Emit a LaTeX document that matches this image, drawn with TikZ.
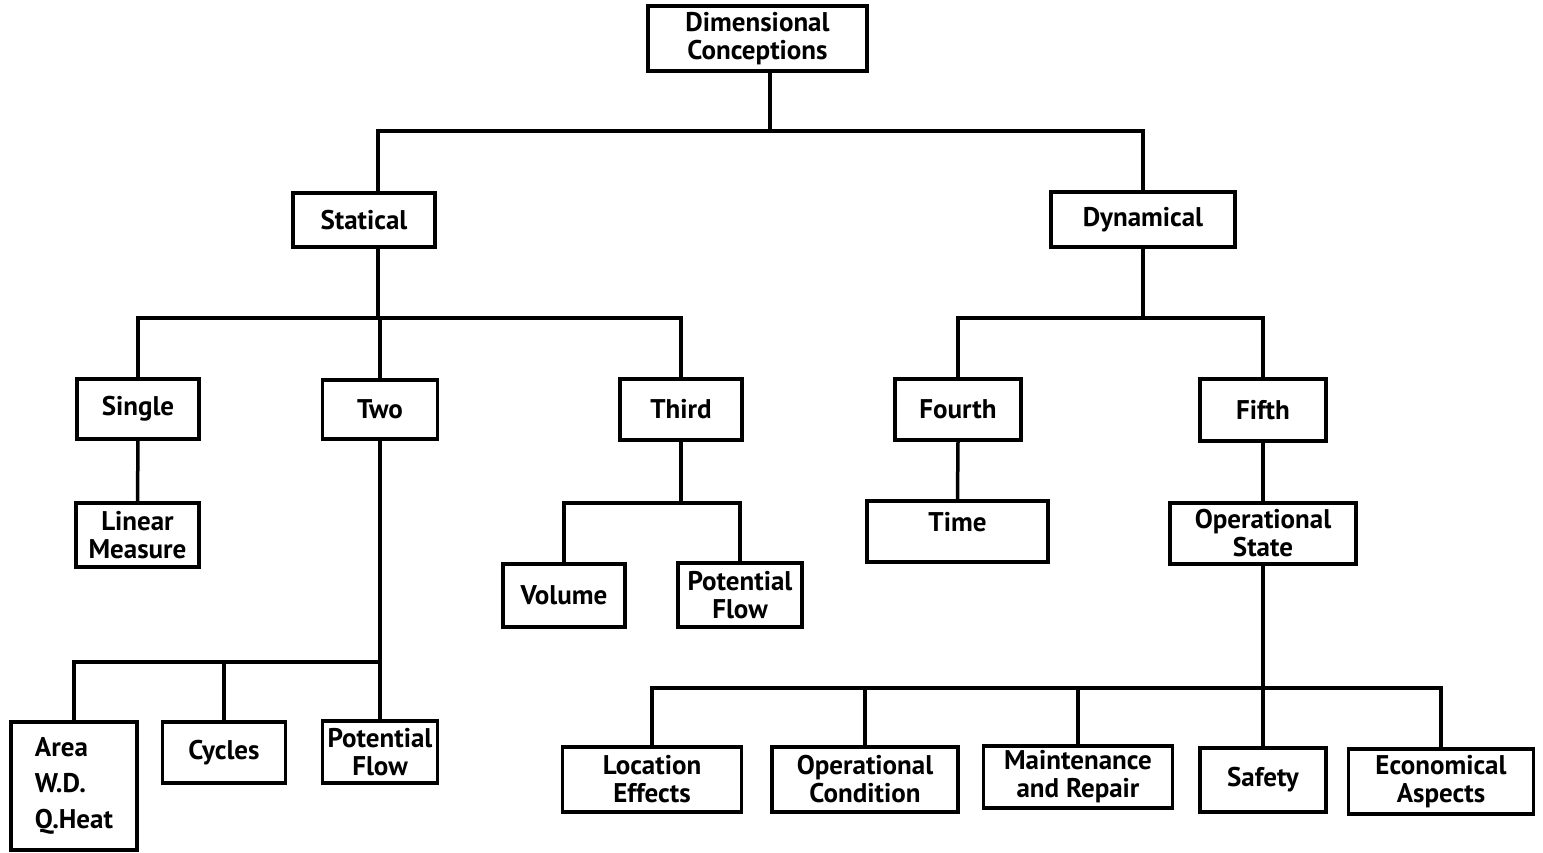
\documentclass[tikz,border=0pt]{standalone}
\usepackage{fontspec}
\setmainfont{PT Sans}
\usetikzlibrary{positioning,calc}

\tikzset{boxsize/.style 2 args={minimum width=#1pt, minimum height=#2pt}}

\begin{document}
\begin{tikzpicture}[x=1pt, y=-1pt,
    block/.style={rectangle, draw, line width=3.5pt, inner sep=2pt, align=center,
        font=\fontsize{27}{28}\selectfont\bfseries},
    link/.style={line width=3.5pt}]

    \useasboundingbox (0,0) rectangle (1543,853);

    \node[block, boxsize={219}{65}] (root) at (757.5,38.5) {Dimensional\\Conceptions};
    \node[block, boxsize={142}{54}] (stat) at (364,220) {Statical};
    \node[block, boxsize={184}{55}] (dyn) at (1143,219.5) {Dynamical};

    \node[block, boxsize={122}{60}] (single) at (138,409) {Single};
    \node[block, boxsize={115}{59}] (two) at (380,409.5) {Two};
    \node[block, boxsize={122}{61}] (third) at (681,409.5) {Third};
    \node[block, boxsize={126}{61}] (fourth) at (958,409.5) {Fourth};
    \node[block, boxsize={126}{62}] (fifth) at (1263,410) {Fifth};

    \node[block, boxsize={123}{64}] (linear) at (137.5,535) {Linear\\Measure};
    \node[block, boxsize={122}{63}] (volume) at (564,595.5) {Volume};
    \node[block, boxsize={124}{64}] (flowc) at (740,595) {Potential\\Flow};
    \node[block, boxsize={181}{61}, text height=19pt, text depth=20pt] (time) at (957.5,531.5) {Time};
    \node[block, boxsize={186}{61}] (opstate) at (1263,533.5) {Operational\\State};

    \node[block, boxsize={126}{128}, align=left, font=\fontsize{27}{36}\selectfont\bfseries] (area) at (74,786) {Area\\W.D.\\Q.Heat};
    \node[block, boxsize={123}{61}] (cycles) at (224,752.5) {Cycles};
    \node[block, boxsize={115}{62}] (flowb) at (380,752) {Potential\\Flow};

    \node[block, boxsize={179}{65}] (loc) at (652,779.5) {Location\\Effects};
    \node[block, boxsize={186}{65}] (opcond) at (865,779.5) {Operational\\Condition};
    \node[block, boxsize={189}{62}] (maint) at (1078,777) {Maintenance\\and Repair};
    \node[block, boxsize={126}{64}] (safety) at (1263,780) {Safety};
    \node[block, boxsize={185}{65}] (econ) at (1441,781.5) {Economical\\Aspects};

    \coordinate (bus1) at (770,131);
    \coordinate (bus2) at (378,318);
    \coordinate (bus3) at (1143,318);
    \coordinate (bus4) at (681,503);
    \coordinate (bus5) at (380,662);
    \coordinate (bus6) at (1263,688);

    \draw[link] ([xshift=12.5pt]root.south) -- (bus1);
    \draw[link] ([xshift=14pt]stat.north) |- (bus1) -| (dyn.north);

    \draw[link] ([xshift=14pt]stat.south) -- (bus2);
    \draw[link] (single.north) |- (bus2) -| (third.north);
    \draw[link] (two.north) |- (bus2);
    \draw[link] (dyn.south) -- (bus3);
    \draw[link] (fourth.north) |- (bus3) -| (fifth.north);

    \draw[link] (single.south) -- (linear.north);
    \draw[link] (third.south) -- (bus4);
    \draw[link] (volume.north) |- (bus4) -| (flowc.north);
    \draw[link] (fourth.south) -- (time.north);
    \draw[link] (fifth.south) -- (opstate.north);

    \draw[link] (two.south) -- (flowb.north);
    \draw[link] (area.north) |- (bus5);
    \draw[link] (cycles.north) -- (cycles.north |- bus5);

    \draw[link] (opstate.south) -- (safety.north);
    \draw[link] (loc.north) |- (bus6) -| (econ.north);
    \foreach \n in {opcond, maint}
        \draw[link] (\n.north) -- (\n.north |- bus6);
\end{tikzpicture}
\end{document}
